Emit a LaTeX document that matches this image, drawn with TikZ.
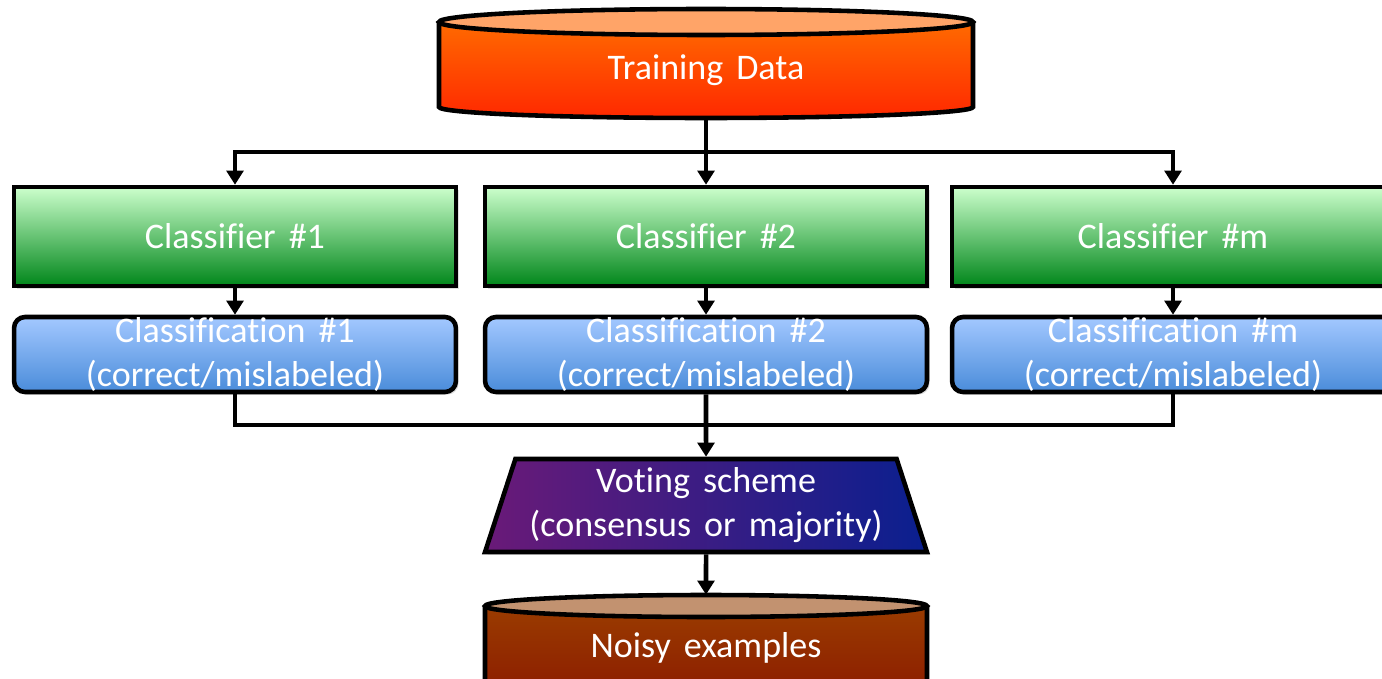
\documentclass[tikz,border=0pt]{standalone}
\usepackage{fontspec}
\setmainfont[WordSpace=1.6, Ligatures=NoCommon]{Carlito}
\usetikzlibrary{arrows.meta, shapes.geometric, shadows}
\definecolor{dataend}{HTML}{FFA468}
\definecolor{datatop}{HTML}{FF6A00}
\definecolor{databot}{HTML}{FF2800}
\definecolor{clftop}{HTML}{CCFFCC}
\definecolor{clfbot}{HTML}{00861A}
\definecolor{clstop}{HTML}{A3C8FF}
\definecolor{clsbot}{HTML}{4A8CDA}
\definecolor{voteleft}{HTML}{6A1A78}
\definecolor{voteright}{HTML}{0A1F8F}
\definecolor{noisyend}{HTML}{C29270}
\definecolor{noisytop}{HTML}{9A3C00}
\definecolor{noisybot}{HTML}{8B1A00}

\begin{document}
\begin{tikzpicture}[x=0.02cm, y=-0.02cm,
              every node/.style={text=white, font=\fontsize{20.5}{25}\selectfont},
              shadow/.style={drop shadow={opacity=0.25, shadow xshift=1.5pt, shadow yshift=-1.5pt}},
              clf/.style={draw, line width=2.6pt, shadow, top color=clftop, bottom color=clfbot, minimum width=8.84cm, minimum height=1.98cm},
              cls/.style={draw, line width=2.6pt, shadow, rounded corners=0.22cm, top color=clstop, bottom color=clsbot, minimum width=8.84cm, minimum height=1.5cm, inner sep=0pt, align=center},
              vote/.style={trapezium, trapezium left angle=68, trapezium right angle=68, trapezium stretches body, draw, line width=2.6pt, shadow, left color=voteleft, right color=voteright, minimum width=8.84cm, minimum height=1.86cm, inner sep=0pt, align=center},
              arrow/.style={-{Triangle[width=9.5pt, length=8pt]}, line width=2.6pt},
              link/.style={line width=2.6pt}
            ]
            \useasboundingbox (0,0) rectangle (1382,679);

            % Training data cylinder
            \shade[top color=datatop, bottom color=databot] (439,22) -- (439,107) arc[start angle=180, end angle=0, x radius=267, y radius=11] -- (973,22) -- cycle;
            \draw[link] (439,22) -- (439,107) arc[start angle=180, end angle=0, x radius=267, y radius=11] -- (973,22);
            \filldraw[link, fill=dataend] (706,22) ellipse[x radius=267, y radius=13];
            \node[inner sep=0pt, minimum height=1.92cm] (train) at (706,70) {Training Data};

            % Classifiers
            \node[clf] (clf1) at (235,236.5) {Classifier \#1};
            \node[clf] (clf2) at (706,236.5) {Classifier \#2};
            \node[clf] (clfm) at (1173,236.5) {Classifier \#m};

            % Classifications
            \node[cls] (cls1) at (235,354.5) {Classification \#1\\(correct/mislabeled)};
            \node[cls] (cls2) at (706,354.5) {Classification \#2\\(correct/mislabeled)};
            \node[cls] (clsm) at (1173,354.5) {Classification \#m\\(correct/mislabeled)};

            % Voting
            \node[vote] (vote) at (706,505.5) {Voting scheme\\(consensus or majority)};

            % Noisy examples cylinder
            \shade[top color=noisytop, bottom color=noisybot] (485,606) -- (485,690) arc[start angle=180, end angle=0, x radius=221, y radius=11] -- (927,606) -- cycle;
            \draw[link] (485,606) -- (485,690) arc[start angle=180, end angle=0, x radius=221, y radius=11] -- (927,606);
            \filldraw[link, fill=noisyend] (706,606) ellipse[x radius=221, y radius=11];
            \node[inner sep=0pt, minimum height=2.12cm] (noisy) at (706,648) {Noisy examples};

            % Connections
            \coordinate (split) at (706,152);
            \coordinate (merge) at (706,425);
            \draw[arrow] (train.south) -- (clf2.north);
            \draw[arrow] (split) -| (clf1.north);
            \draw[arrow] (split) -| (clfm.north);
            \draw[arrow] (clf1.south) -- (cls1.north);
            \draw[arrow] (clf2.south) -- (cls2.north);
            \draw[arrow] (clfm.south) -- (clsm.north);
            \draw[link] (cls1.south) |- (merge) -| (clsm.south);
            \draw[arrow] (cls2.south) -- (vote.north);
            \draw[arrow] (vote.south) -- (noisy.north);

\end{tikzpicture}
\end{document}
